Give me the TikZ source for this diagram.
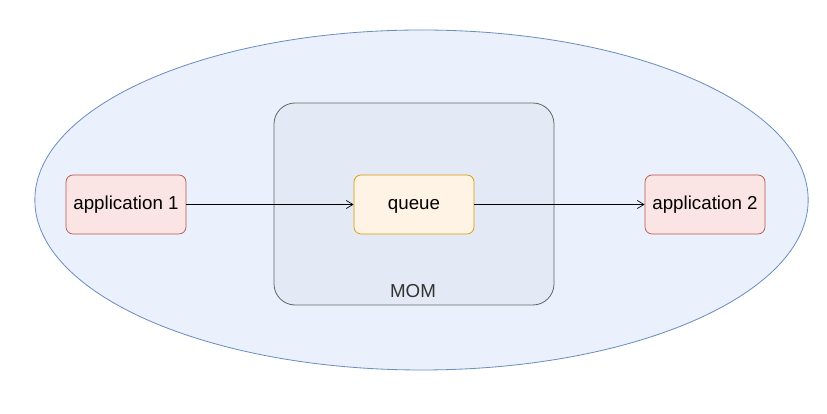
\documentclass[tikz,border=0pt]{standalone}
\usepackage{fontspec}
\setmainfont{Liberation Sans}
\usepackage{xcolor}
\usepackage{tikz}
\usetikzlibrary{positioning,shapes.geometric,arrows.meta}

\definecolor{zonefill}{HTML}{EAF1FD}
\definecolor{zoneline}{HTML}{6C8EBF}
\definecolor{appfill}{HTML}{FBE5E4}
\definecolor{appline}{HTML}{B85450}
\definecolor{queuefill}{HTML}{FFF3E6}
\definecolor{queueline}{HTML}{D79B00}
\definecolor{momline}{HTML}{666666}

\tikzset{
  appbox/.style={draw=appline,fill=appfill,rounded corners=6pt,line width=0.6pt,
    minimum width=3.6cm,minimum height=1.77cm,inner sep=0pt,text height=10pt,text depth=1pt,
    font=\fontsize{16}{19}\selectfont},
  queuebox/.style={draw=queueline,fill=queuefill,rounded corners=6pt,line width=0.6pt,
    minimum width=3.6cm,minimum height=1.77cm,inner sep=0pt,text height=10pt,text depth=1pt,
    font=\fontsize{16}{19}\selectfont},
  flow/.style={draw=black,line width=0.6pt,-{Straight Barb[length=2mm,width=2.4mm]}}
}

\begin{document}
\begin{tikzpicture}
  \useasboundingbox (0,0) rectangle (24.81,12.42);

  % system boundary
  \node[ellipse,draw=zoneline,fill=zonefill,line width=0.7pt,
        minimum width=23.2cm,minimum height=10.2cm,inner sep=0pt] (zone) at (12.645,6.42) {};

  % middleware
  \node[draw=momline,fill=zonefill!94!gray,rounded corners=18pt,line width=0.7pt,
        minimum width=8.4cm,minimum height=6.06cm,inner sep=0pt] (mom) at (12.42,6.3) {};
  \node[font=\fontsize{16}{19}\selectfont,text=black!80] (momlabel) at (12.39,3.69) {MOM};

  \node[queuebox] (queue) at (12.42,6.285) {queue};
  \node[appbox] (app1) at (3.78,6.285) {application 1};
  \node[appbox] (app2) at (21.15,6.285) {application 2};

  \draw[flow] (app1) -- (queue);
  \draw[flow] (queue) -- (app2);
\end{tikzpicture}
\end{document}
